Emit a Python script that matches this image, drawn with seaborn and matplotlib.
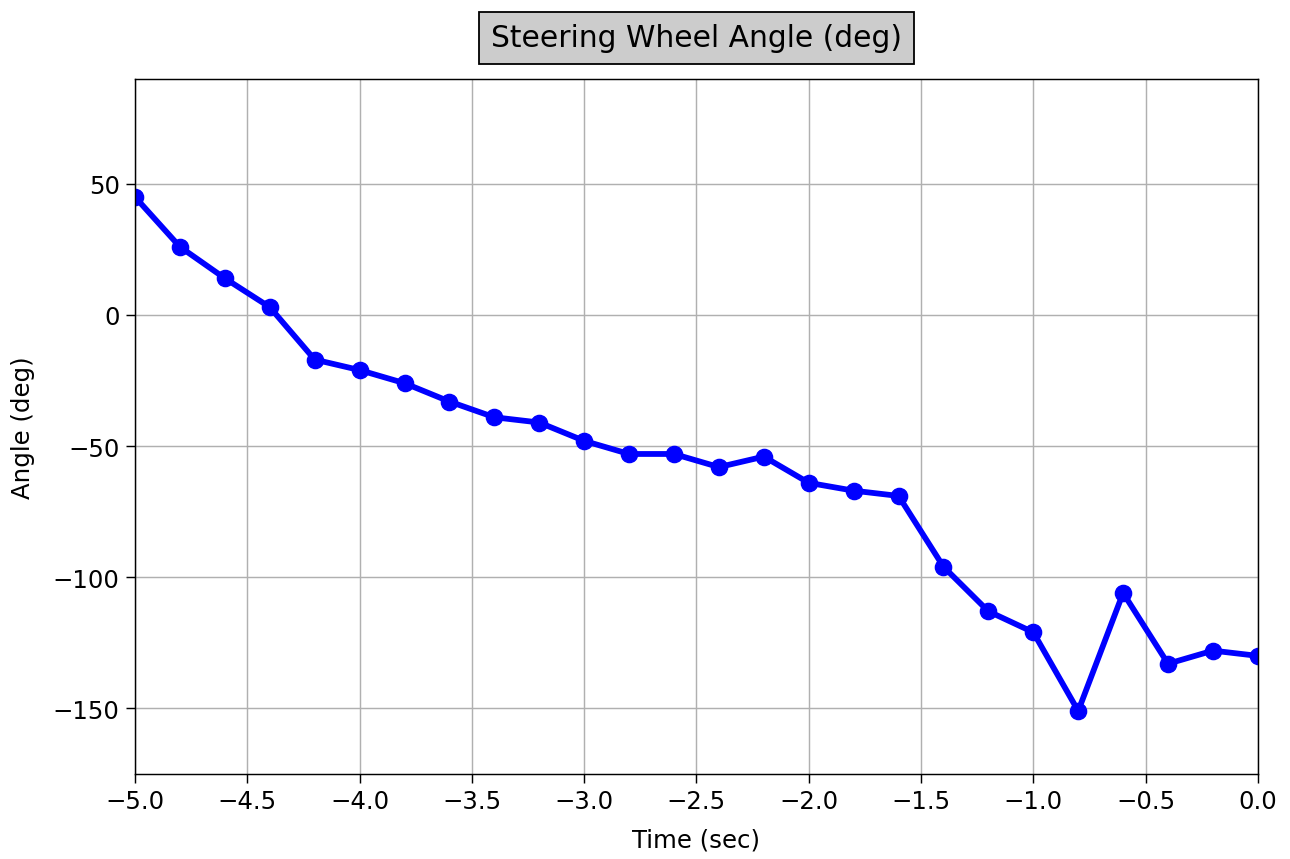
import pandas as pd
import numpy as np
import matplotlib.pyplot as plt
import seaborn as sns

# Steering wheel angle samples over the last 5 seconds
time_sec = [-5.0, -4.8, -4.6, -4.4, -4.2, -4.0, -3.8, -3.6, -3.4, -3.2,
            -3.0, -2.8, -2.6, -2.4, -2.2, -2.0, -1.8, -1.6, -1.4, -1.2,
            -1.0, -0.8, -0.6, -0.4, -0.2, 0.0]
angle_deg = [45, 26, 14, 3, -17, -21, -26, -33, -39, -41,
             -48, -53, -53, -58, -54, -64, -67, -69, -96, -113,
             -121, -151, -106, -133, -128, -130]
x_ticks = [-5.0, -4.5, -4.0, -3.5, -3.0, -2.5, -2.0, -1.5, -1.0, -0.5, 0.0]

df = pd.DataFrame({'Time (sec)': time_sec, 'Angle (deg)': angle_deg})

fig = plt.figure(figsize=(9.93, 6.615), dpi=130)
ax = fig.add_axes([0.1046, 0.099, 0.8698, 0.808])

sns.lineplot(data=df, x='Time (sec)', y='Angle (deg)', ax=ax,
             color='blue', linewidth=3.2, marker='o', markersize=9,
             markeredgecolor='blue')

ax.set_xlim(-5.0, 0.0)
ax.set_ylim(-175, 90)
ax.set_xticks(x_ticks)
ax.set_xticklabels([f'{t:.1f}'.replace('-', '\u2212') for t in x_ticks])
ax.tick_params(labelsize=13.5, length=5)
ax.set_xlabel('Time (sec)', fontsize=13.5, labelpad=8)
ax.set_ylabel('Angle (deg)', fontsize=13.5, labelpad=10)
ax.grid(True, color='#b0b0b0', linewidth=0.8)
ax.set_axisbelow(True)
ax.set_title('Steering Wheel Angle (deg)', fontsize=16.5, pad=18,
             bbox=dict(facecolor='#cccccc', edgecolor='black', pad=6.5))

plt.savefig('out.png', dpi=130)
plt.close()
